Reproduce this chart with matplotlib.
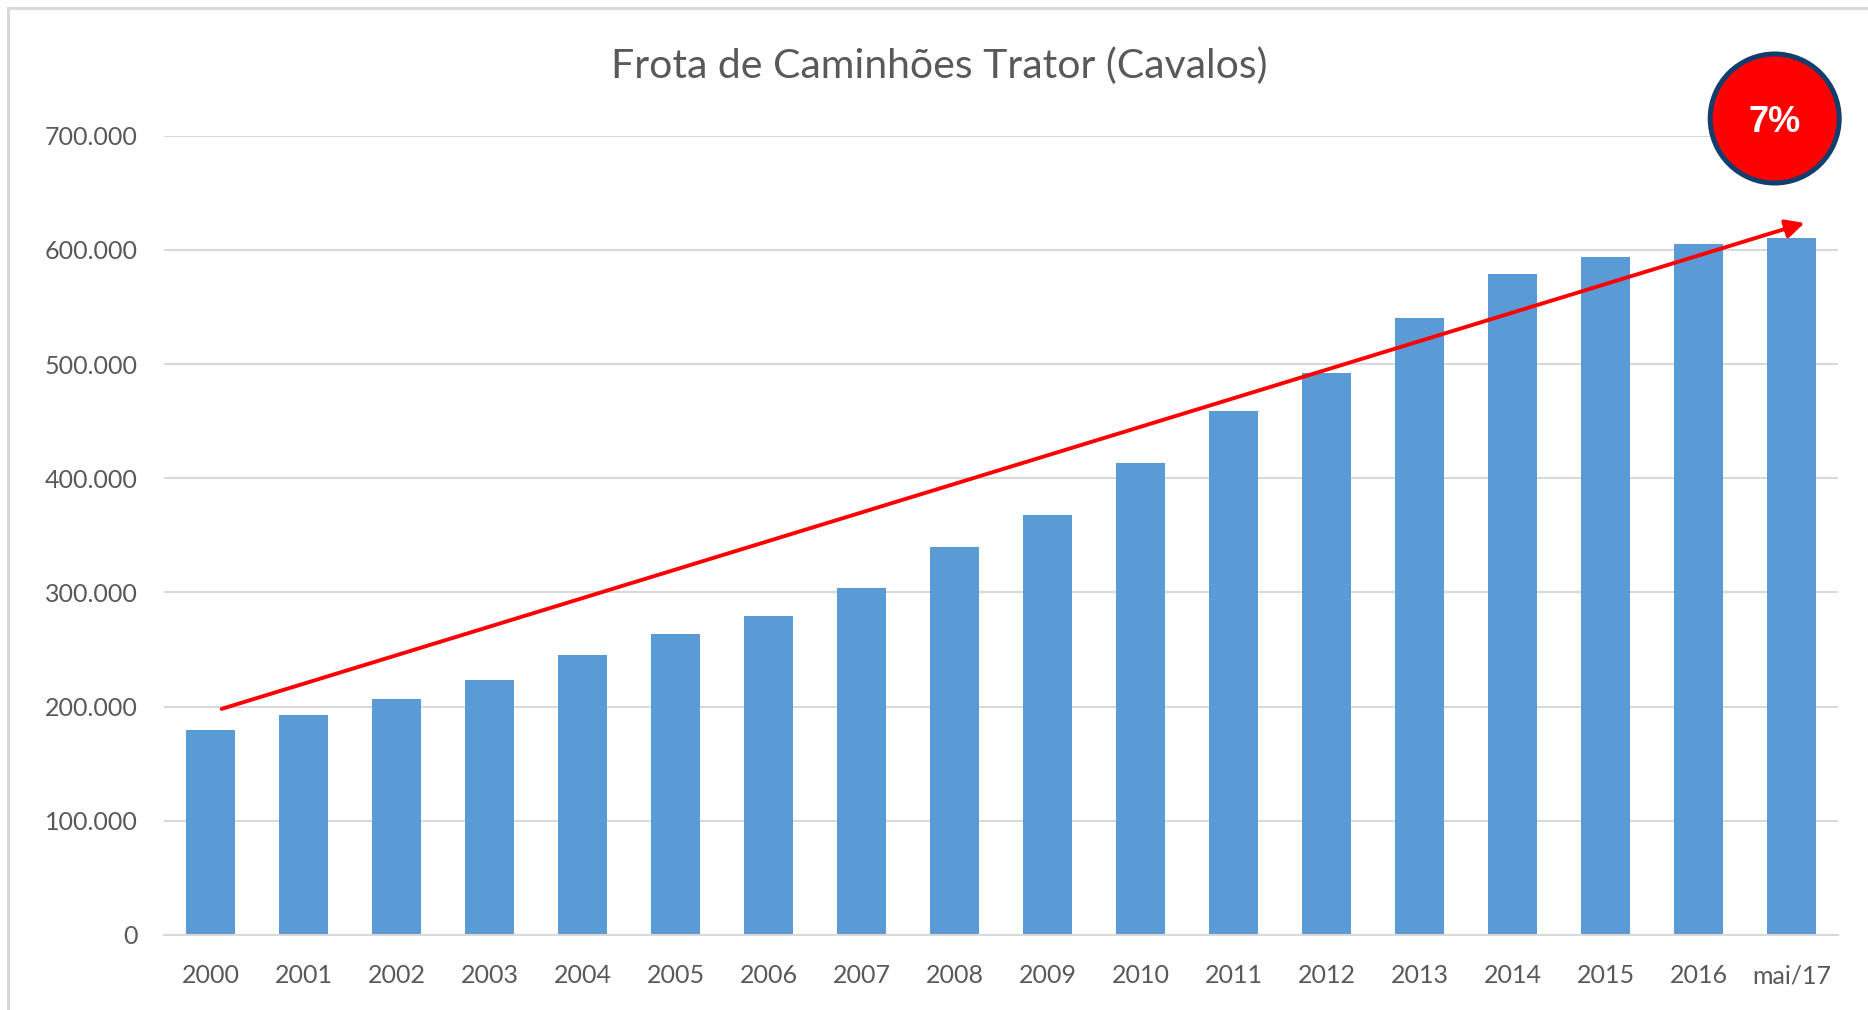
import matplotlib
matplotlib.use("Agg")
import matplotlib.pyplot as plt
from matplotlib.patches import Ellipse
from matplotlib.lines import Line2D
from matplotlib.ticker import FuncFormatter

categories = ["2000", "2001", "2002", "2003", "2004", "2005", "2006", "2007", "2008",
              "2009", "2010", "2011", "2012", "2013", "2014", "2015", "2016", "mai/17"]
values = [179500, 193000, 206600, 223000, 245000, 264000, 279000, 304000, 340000,
          368000, 413000, 458500, 492500, 540000, 578500, 594000, 605500, 610000]
yticks = [0, 100000, 200000, 300000, 400000, 500000, 600000, 700000]
title = "Frota de Caminhões Trator (Cavalos)"
badge = "7%"
trend_start = (0.12, 198000)
trend_end = (17.14, 623500)

plt.rcParams['font.family'] = ['Lato', 'DejaVu Sans']

fig = plt.figure(figsize=(18.68, 10.10), dpi=100)
ax = fig.add_axes([164/1868, 75/1010, (1838-164)/1868, (935-135.6)/1010])

x = list(range(len(categories)))
ax.bar(x, values, width=0.52, color="#5B9BD5", zorder=2)
ax.set_xlim(-0.5, len(categories) - 0.5)
ax.set_ylim(0, 700000)
ax.set_yticks(yticks)
ax.yaxis.set_major_formatter(FuncFormatter(lambda v, p: f"{int(v):,}".replace(",", ".")))
ax.set_xticks(x)
ax.set_xticklabels(categories)
ax.grid(axis="y", color="#D9D9D9", linewidth=1.5, zorder=0)
for s in ["top", "right", "left"]:
    ax.spines[s].set_visible(False)
ax.spines["bottom"].set_color("#D9D9D9")
ax.spines["bottom"].set_linewidth(1.5)
ax.tick_params(axis="both", length=0, labelsize=18, labelcolor="#595959")
ax.tick_params(axis="y", pad=19)
ax.tick_params(axis="x", pad=21)

ax.annotate("", xy=trend_end, xytext=trend_start,
            arrowprops=dict(arrowstyle="-|>", color="#FF0000", lw=2.8,
                            mutation_scale=28, shrinkA=0, shrinkB=0),
            zorder=5)

fig.text(939/1868, 1 - 66/1010, title, ha="center", va="center",
         fontsize=29.5, color="#595959")

circ = Ellipse((1774.7/1868, 1 - 118.5/1010), 129/1868, 129/1010,
               transform=fig.transFigure, facecolor="#FF0000",
               edgecolor="#123E6E", linewidth=3.6, zorder=10)
fig.add_artist(circ)
fig.text(1774.7/1868, 1 - 122/1010, badge, ha="center", va="center",
         fontsize=26, fontweight="bold", color="white",
         family=["Liberation Sans", "DejaVu Sans"], zorder=11)

fig.add_artist(Line2D([8/1868, 1], [1 - 8/1010, 1 - 8/1010], transform=fig.transFigure,
                      color="#D9D9D9", linewidth=2.2))
fig.add_artist(Line2D([8/1868, 8/1868], [0, 1 - 8/1010], transform=fig.transFigure,
                      color="#D9D9D9", linewidth=2.2))

fig.savefig("out.png", dpi=100)
